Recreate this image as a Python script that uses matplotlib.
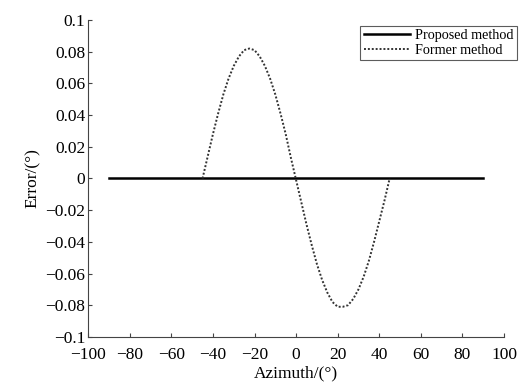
import matplotlib
matplotlib.use("Agg")
import matplotlib.pyplot as plt

plt.rcParams['font.family'] = ['Liberation Serif', 'DejaVu Serif']

# proposed method: flat error line
az_prop = [-90, -60, -30, 0, 30, 60, 90]
err_prop = [0, 0, 0, 0, 0, 0, 0]

# former method:
az_old = [-45, -42.5, -40, -37.5, -35, -32.5, -30, -27.5, -25, -22.5, -20, -17.5, -15,
          -12.5, -10, -7.5, -5, -2.5, 0, 2.5, 5, 7.5, 10, 12.5, 15, 17.5, 20, 22.5,
          25, 27.5, 30, 32.5, 35, 37.5, 40, 42.5, 45]
err_old = [0.0, 0.014, 0.028, 0.041, 0.053, 0.063, 0.071, 0.077, 0.081, 0.082, 0.081, 0.077, 0.071,
           0.063, 0.053, 0.041, 0.028, 0.013, -0.001, -0.015, -0.029, -0.042, -0.054, -0.064, -0.072, -0.078,
           -0.081, -0.081, -0.080, -0.076, -0.070, -0.062, -0.052, -0.040, -0.027, -0.014, 0.0]

xt = list(range(-100, 101, 20))
yt = [-0.1, -0.08, -0.06, -0.04, -0.02, 0, 0.02, 0.04, 0.06, 0.08, 0.1]
xt_lab = [('\u2212' + str(-v)) if v < 0 else str(v) for v in xt]
yt_lab = ['\u22120.1', '\u22120.08', '\u22120.06', '\u22120.04', '\u22120.02', '0',
          '0.02', '0.04', '0.06', '0.08', '0.1']

fig = plt.figure(figsize=(5.25, 3.85), dpi=100)
ax = fig.add_axes([0.168, 0.125, 0.792, 0.823])

ax.plot(az_prop, err_prop, color='black', lw=1.8, label='Proposed method')
ax.plot(az_old, err_old, color='#333333', lw=1.4, ls=(0, (1, 1)), label='Former method')

ax.set_xlim(-100, 100)
ax.set_ylim(-0.1, 0.1)
ax.set_xticks(xt)
ax.set_xticklabels(xt_lab)
ax.set_yticks(yt)
ax.set_yticklabels(yt_lab)
ax.tick_params(direction='in', labelsize=12.5, length=3, color='#444444')
ax.tick_params(axis='y', pad=2)
ax.tick_params(axis='x', pad=7)
for s in ['top', 'right']:
    ax.spines[s].set_visible(False)
for s in ['left', 'bottom']:
    ax.spines[s].set_color('#444444')

ax.set_xlabel('Azimuth/(°)', fontsize=12.5, labelpad=2)
ax.set_ylabel('Error/(°)', fontsize=12.5, labelpad=3)

leg = ax.legend(loc='upper right', bbox_to_anchor=(0.984, 0.933), bbox_transform=fig.transFigure,
                fontsize=10.2, frameon=True, fancybox=False, borderpad=0.25, labelspacing=0.1,
                handlelength=3.3, handletextpad=0.3, borderaxespad=0)
leg.get_frame().set_edgecolor('#333333')
leg.get_frame().set_linewidth(0.8)

fig.savefig('out.png', dpi=100)
